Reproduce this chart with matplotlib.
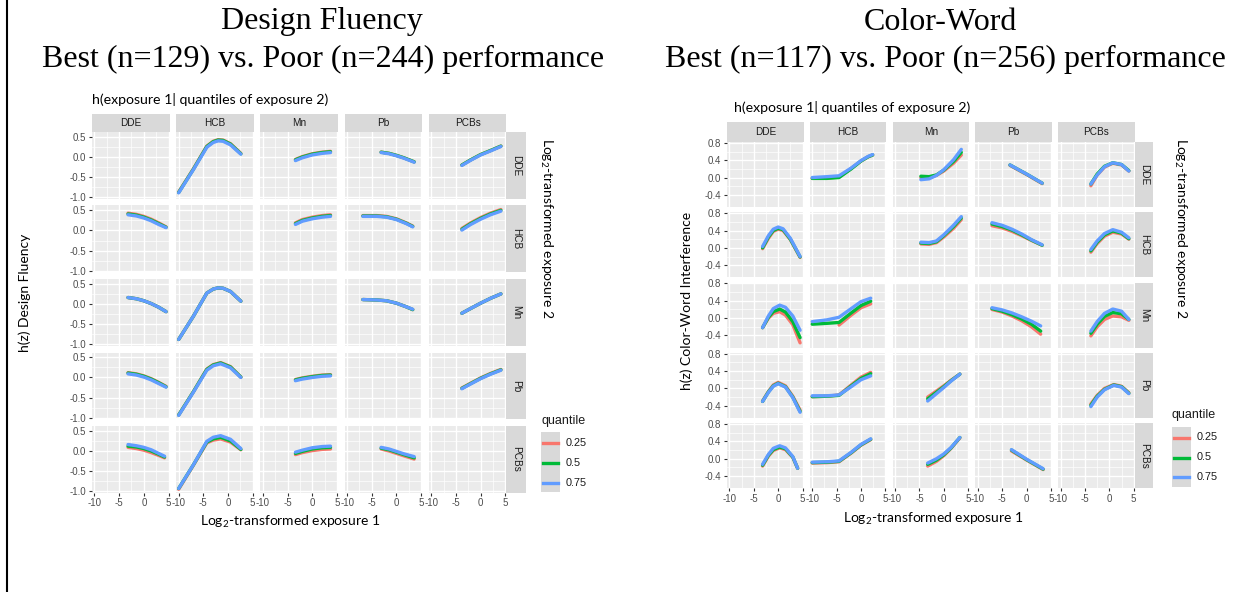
import numpy as np
import matplotlib
matplotlib.use('Agg')
import matplotlib.pyplot as plt
from matplotlib.patches import Rectangle
from matplotlib.lines import Line2D

W, H = 1250, 592

exposures = ['DDE', 'HCB', 'Mn', 'Pb', 'PCBs']
quantiles = ['0.25', '0.5', '0.75']
q_colors = ['#F8766D', '#00BA38', '#619CFF']
nan = np.nan

# Design Fluency, one dict per exposure-2 row: exposure 1 -> (x, q25, q50, q75)
df_dde = {
    'HCB': ([-10, -7, -4.3, -3, -2, -1, 0.5, 2.6],
            [-0.87, -0.29, 0.27, 0.39, 0.43, 0.42, 0.33, 0.09],
            [-0.88, -0.30, 0.26, 0.38, 0.42, 0.41, 0.32, 0.08],
            [-0.89, -0.31, 0.24, 0.36, 0.40, 0.39, 0.30, 0.07]),
    'Mn': ([-3.4, -2, 0, 2, 3.7],
           [-0.06, 0.01, 0.08, 0.12, 0.14],
           [-0.07, 0.0, 0.07, 0.11, 0.13],
           [-0.09, -0.02, 0.05, 0.09, 0.11]),
    'Pb': ([-3.1, -1.5, 0, 1.5, 3.6],
           [0.12, 0.09, 0.04, -0.02, -0.12],
           [0.12, 0.09, 0.04, -0.02, -0.12],
           [0.11, 0.08, 0.03, -0.03, -0.13]),
    'PCBs': ([-3.8, -2, 0, 2, 4.1],
             [-0.20, -0.07, 0.06, 0.16, 0.27],
             [-0.20, -0.07, 0.06, 0.16, 0.27],
             [-0.21, -0.08, 0.05, 0.15, 0.26]),
}
df_hcb = {
    'DDE': ([-3.2, -1.5, 0, 1.5, 3, 4.5],
            [0.43, 0.40, 0.35, 0.28, 0.19, 0.09],
            [0.41, 0.38, 0.33, 0.26, 0.17, 0.08],
            [0.39, 0.36, 0.31, 0.24, 0.15, 0.07]),
    'Mn': ([-3.4, -2, 0, 2, 3.7],
           [0.19, 0.27, 0.33, 0.37, 0.39],
           [0.17, 0.25, 0.31, 0.35, 0.37],
           [0.15, 0.23, 0.29, 0.33, 0.35]),
    'Pb': ([-6.8, -4, -2, 0, 2, 3.3],
           [0.37, 0.37, 0.35, 0.29, 0.19, 0.11],
           [0.36, 0.36, 0.34, 0.28, 0.18, 0.10],
           [0.35, 0.35, 0.33, 0.27, 0.17, 0.09]),
    'PCBs': ([-3.8, -2, 0, 2, 4.1],
             [0.05, 0.19, 0.32, 0.43, 0.52],
             [0.03, 0.17, 0.30, 0.41, 0.50],
             [0.01, 0.15, 0.28, 0.39, 0.48]),
}
df_mn = {
    'DDE': ([-3.2, -1.5, 0, 1.5, 3, 4.5],
            [0.16, 0.13, 0.08, 0.01, -0.08, -0.19],
            [0.16, 0.13, 0.08, 0.01, -0.08, -0.19],
            [0.16, 0.13, 0.08, 0.01, -0.08, -0.19]),
    'HCB': ([-10, -7, -4.3, -3, -2, -1, 0.5, 2.6],
            [-0.88, -0.30, 0.27, 0.37, 0.40, 0.39, 0.31, 0.07],
            [-0.88, -0.30, 0.27, 0.37, 0.40, 0.39, 0.31, 0.07],
            [-0.88, -0.30, 0.27, 0.37, 0.40, 0.39, 0.31, 0.07]),
    'Pb': ([-6.8, -4, -2, 0, 2, 3.3],
           [0.11, 0.10, 0.08, 0.02, -0.07, -0.14],
           [0.11, 0.10, 0.08, 0.02, -0.07, -0.14],
           [0.11, 0.10, 0.08, 0.02, -0.07, -0.13]),
    'PCBs': ([-3.8, -2, 0, 2, 4.1],
             [-0.23, -0.11, 0.02, 0.14, 0.25],
             [-0.23, -0.11, 0.02, 0.14, 0.25],
             [-0.23, -0.11, 0.02, 0.14, 0.25]),
}
df_pb = {
    'DDE': ([-3.2, -1.5, 0, 1.5, 3, 4.5],
            [0.12, 0.09, 0.04, -0.03, -0.12, -0.22],
            [0.11, 0.08, 0.03, -0.04, -0.13, -0.23],
            [0.09, 0.06, 0.01, -0.06, -0.15, -0.24]),
    'HCB': ([-10, -7, -4.3, -3, -1.5, 0.5, 2.6],
            [-0.93, -0.35, 0.21, 0.32, 0.37, 0.27, 0.01],
            [-0.93, -0.35, 0.20, 0.31, 0.36, 0.26, 0.01],
            [-0.94, -0.36, 0.18, 0.29, 0.34, 0.24, 0.0]),
    'Mn': ([-3.4, -2, 0, 2, 3.7],
           [-0.05, -0.01, 0.03, 0.06, 0.07],
           [-0.06, -0.02, 0.02, 0.05, 0.06],
           [-0.08, -0.04, 0.0, 0.03, 0.04]),
    'PCBs': ([-3.8, -2, 0, 2, 4.1],
             [-0.26, -0.14, -0.01, 0.10, 0.20],
             [-0.27, -0.15, -0.02, 0.09, 0.19],
             [-0.28, -0.16, -0.03, 0.08, 0.18]),
}
df_pcbs = {
    'DDE': ([-3.2, -1.5, 0, 1.5, 3, 4.2],
            [0.09, 0.06, 0.02, -0.04, -0.11, -0.17],
            [0.12, 0.10, 0.06, 0.0, -0.08, -0.15],
            [0.16, 0.13, 0.09, 0.03, -0.06, -0.13]),
    'HCB': ([-10, -7, -4.3, -3, -1.5, 0.5, 2.6],
            [-0.95, -0.35, 0.20, 0.27, 0.30, 0.22, 0.03],
            [-0.93, -0.34, 0.22, 0.30, 0.34, 0.25, 0.04],
            [-0.93, -0.34, 0.24, 0.34, 0.38, 0.29, 0.06]),
    'Mn': ([-3.4, -2, 0, 2, 3.7],
           [-0.09, -0.04, 0.01, 0.04, 0.05],
           [-0.06, -0.01, 0.05, 0.08, 0.09],
           [-0.03, 0.02, 0.08, 0.11, 0.12]),
    'Pb': ([-3.1, -1.5, 0, 1.5, 3.6],
           [0.05, 0.0, -0.06, -0.12, -0.20],
           [0.07, 0.03, -0.03, -0.09, -0.17],
           [0.09, 0.05, -0.01, -0.07, -0.14]),
}

# Color-Word Interference, same layout
cw_dde = {
    'HCB': ([-10, -7, -4.5, -2, 0, 1.5, 2.4],
            [-0.02, -0.01, 0.01, 0.21, 0.38, 0.48, 0.52],
            [-0.02, -0.02, 0.0, 0.20, 0.38, 0.48, 0.52],
            [0.0, 0.02, 0.04, 0.22, 0.39, 0.49, 0.53]),
    'Mn': ([-4.7, -3, -1.5, 0, 2, 3.6],
           [0.0, 0.0, 0.05, 0.15, 0.33, 0.52],
           [0.03, 0.02, 0.06, 0.17, 0.37, 0.58],
           [-0.05, -0.03, 0.05, 0.18, 0.41, 0.65]),
    'Pb': ([-3.4, 0, 3.2],
           [0.28, 0.07, -0.14],
           [0.29, 0.08, -0.13],
           [0.29, 0.08, -0.13]),
    'PCBs': ([-3.8, -2.5, -1, 0.7, 2.5, 4.0],
             [-0.19, 0.06, 0.24, 0.33, 0.29, 0.15],
             [-0.15, 0.08, 0.26, 0.34, 0.30, 0.16],
             [-0.15, 0.06, 0.25, 0.34, 0.30, 0.15]),
}
cw_hcb = {
    'DDE': ([-3.2, -2, -1, 0, 1, 2.5, 4.5],
            [-0.02, 0.22, 0.38, 0.43, 0.40, 0.19, -0.22],
            [0.0, 0.25, 0.40, 0.45, 0.42, 0.20, -0.21],
            [0.03, 0.28, 0.43, 0.48, 0.44, 0.22, -0.20]),
    'Mn': ([-4.7, -3, -1.5, 0, 2, 3.6],
           [0.09, 0.08, 0.12, 0.25, 0.45, 0.65],
           [0.11, 0.10, 0.14, 0.28, 0.49, 0.69],
           [0.13, 0.12, 0.16, 0.30, 0.52, 0.72]),
    'Pb': ([-7.1, -5, -3, -1, 1, 3.2],
           [0.51, 0.46, 0.38, 0.28, 0.17, 0.06],
           [0.55, 0.49, 0.41, 0.30, 0.18, 0.06],
           [0.58, 0.52, 0.43, 0.32, 0.19, 0.07]),
    'PCBs': ([-3.8, -2.5, -1, 0.7, 2.5, 4.0],
             [-0.10, 0.10, 0.27, 0.36, 0.32, 0.20],
             [-0.07, 0.13, 0.30, 0.39, 0.34, 0.21],
             [-0.04, 0.16, 0.33, 0.42, 0.36, 0.23]),
}
cw_mn = {
    'DDE': ([-3.2, -2, -1, 0.3, 1.5, 3, 4.5],
            [-0.22, 0.0, 0.11, 0.15, 0.07, -0.15, -0.57],
            [-0.22, 0.02, 0.15, 0.21, 0.14, -0.08, -0.45],
            [-0.22, 0.05, 0.22, 0.30, 0.25, 0.05, -0.28]),
    'HCB': ([-10, -7, -4.5, -2, 0, 2.0],
            [nan, nan, -0.16, 0.07, 0.24, 0.33],
            [-0.14, -0.12, -0.10, 0.12, 0.29, 0.39],
            [-0.08, -0.04, 0.02, 0.22, 0.38, 0.46]),
    'Pb': ([-7.1, -5, -3, -1, 1, 2.9],
           [0.20, 0.14, 0.05, -0.06, -0.20, -0.37],
           [0.22, 0.16, 0.08, -0.02, -0.14, -0.30],
           [0.24, 0.19, 0.12, 0.03, -0.07, -0.18]),
    'PCBs': ([-3.8, -2.5, -1, 0.7, 2.5, 4.0],
             [-0.41, -0.20, -0.03, 0.05, 0.03, -0.05],
             [-0.35, -0.14, 0.04, 0.13, 0.10, -0.03],
             [-0.30, -0.08, 0.11, 0.21, 0.16, -0.03]),
}
cw_pb = {
    'DDE': ([-3.2, -2, -1, 0.0, 1.5, 3, 4.5],
            [-0.29, -0.07, 0.08, 0.14, 0.06, -0.18, -0.50],
            [-0.30, -0.08, 0.06, 0.12, 0.04, -0.20, -0.53],
            [-0.30, -0.09, 0.05, 0.11, 0.03, -0.21, -0.55]),
    'HCB': ([-10, -7, -4.5, -2, 0, 2.0],
            [-0.19, -0.18, -0.15, 0.08, 0.26, 0.37],
            [-0.19, -0.18, -0.16, 0.06, 0.23, 0.34],
            [-0.17, -0.17, -0.15, 0.04, 0.20, 0.29]),
    'Mn': ([-3.3, -1.5, 0, 1.5, 3.3],
           [-0.20, -0.06, 0.06, 0.19, 0.33],
           [-0.24, -0.09, 0.04, 0.18, 0.33],
           [-0.29, -0.12, 0.02, 0.17, 0.33]),
    'PCBs': ([-3.8, -2.5, -1, 0.9, 2.5, 4.0],
             [-0.36, -0.16, 0.0, 0.09, 0.05, -0.10],
             [-0.39, -0.18, -0.02, 0.08, 0.04, -0.11],
             [-0.42, -0.20, -0.03, 0.07, 0.03, -0.12]),
}
cw_pcbs = {
    'DDE': ([-3.2, -2, -1, 0.3, 1.5, 3, 4.0],
            [-0.17, 0.06, 0.19, 0.25, 0.21, 0.03, -0.22],
            [-0.15, 0.08, 0.21, 0.27, 0.23, 0.04, -0.22],
            [-0.13, 0.10, 0.24, 0.30, 0.25, 0.05, -0.22]),
    'HCB': ([-10, -7, -4.5, -2, 0, 2.0],
            [-0.10, -0.09, -0.07, 0.13, 0.31, 0.44],
            [-0.09, -0.08, -0.06, 0.14, 0.32, 0.45],
            [-0.08, -0.07, -0.05, 0.15, 0.33, 0.46]),
    'Mn': ([-3.3, -1.5, 0, 1.5, 3.3],
           [-0.17, -0.06, 0.07, 0.24, 0.48],
           [-0.13, -0.03, 0.09, 0.25, 0.49],
           [-0.10, 0.0, 0.11, 0.26, 0.49]),
    'Pb': ([-3.1, 0, 3.4],
           [0.18, -0.03, -0.25],
           [0.20, -0.02, -0.24],
           [0.21, -0.01, -0.23]),
}

fluency_rows = [df_dde, df_hcb, df_mn, df_pb, df_pcbs]
colorword_rows = [cw_dde, cw_hcb, cw_mn, cw_pb, cw_pcbs]

plt.rcParams['mathtext.fontset'] = 'custom'
plt.rcParams['mathtext.rm'] = 'Lato'
plt.rcParams['mathtext.it'] = 'Lato:italic'

fig = plt.figure(figsize=(W / 100, H / 100), dpi=100)
fig.patch.set_facecolor('white')


def box(left, top, w, h):
    return [left / W, 1 - (top + h) / H, w / W, h / H]


def fx(px):
    return px / W


def fy(py):
    return 1 - py / H


def strip(left, top, w, h, label, rot):
    sa = fig.add_axes(box(left, top, w, h))
    sa.set_facecolor('#D9D9D9')
    sa.set_xticks([])
    sa.set_yticks([])
    for s in sa.spines.values():
        s.set_visible(False)
    sa.text(0.5, 0.5, label, ha='center', va='center', fontsize=7.2,
            rotation=rot, color='#1A1A1A', family='Liberation Sans')


def draw_grid(rows, lefts, tops, pw, ph, strip_h, strip_w, ylim, yticks, yminor, ylabels):
    for r, row in enumerate(rows):
        for c, name in enumerate(exposures):
            ax = fig.add_axes(box(lefts[c], tops[r], pw, ph))
            ax.set_facecolor('#EBEBEB')
            ax.set_xlim(-10.5, 5.2)
            ax.set_ylim(*ylim)
            ax.set_xticks([-10, -5, 0, 5])
            ax.set_xticks([-7.5, -2.5, 2.5], minor=True)
            ax.set_yticks(yticks)
            ax.set_yticks(yminor, minor=True)
            ax.set_xticklabels(['-10', '-5', '0', '5'])
            ax.set_yticklabels(ylabels)
            ax.grid(which='major', color='white', lw=1.0)
            ax.grid(which='minor', color='white', lw=0.5)
            ax.set_axisbelow(True)
            for s in ax.spines.values():
                s.set_visible(False)
            ax.tick_params(which='major', length=2.5, width=0.8, color='#333333',
                           labelcolor='#4D4D4D', labelsize=7, pad=1.5)
            ax.tick_params(which='minor', length=0)
            ax.tick_params(bottom=(r == 4), labelbottom=(r == 4),
                           left=(c == 0), labelleft=(c == 0))
            for lab in ax.get_xticklabels() + ax.get_yticklabels():
                lab.set_fontfamily('Liberation Sans')
            if name in row:
                x, *qs = row[name]
                for q, col in zip(qs, q_colors):
                    ax.plot(x, q, color=col, lw=2.4, solid_capstyle='round',
                            solid_joinstyle='round')
            # column strips on top, row strips on the right
            if r == 0:
                strip(lefts[c], tops[0] - strip_h, pw, strip_h, name, 0)
            if c == 4:
                strip(lefts[4] + pw, tops[r], strip_w, ph, exposures[r], -90)


def draw_legend(left, title_y, key_top, key_ys):
    fig.text(fx(left), fy(title_y), 'quantile', ha='left', va='center',
             fontsize=9, color='#1A1A1A', family='Liberation Sans')
    fig.patches.append(Rectangle((fx(left), fy(key_top + 60)), 19 / W, 60 / H,
                                 transform=fig.transFigure, facecolor='#D9D9D9',
                                 edgecolor='none'))
    for ky, lab, col in zip(key_ys, quantiles, q_colors):
        fig.lines.append(Line2D([fx(left + 2), fx(left + 17)], [fy(ky), fy(ky)],
                                transform=fig.transFigure, color=col, lw=2.4))
        fig.text(fx(left + 25), fy(ky), lab, ha='left', va='center', fontsize=7.8,
                 color='#1A1A1A', family='Liberation Sans')


# Design Fluency grid
fl_lefts = [92 + i * 84.2 for i in range(5)]
fl_tops = [132 + i * 73.5 for i in range(5)]
draw_grid(fluency_rows, fl_lefts, fl_tops, 77.5, 66.5, 18.5, 19.5,
          (-1.03, 0.62), [-1.0, -0.5, 0.0, 0.5], [-0.75, -0.25, 0.25],
          ['-1.0', '-0.5', '0.0', '0.5'])

# Color-Word grid
cw_lefts = [727 + i * 82.8 for i in range(5)]
cw_tops = [142 + i * 70.3 for i in range(5)]
draw_grid(colorword_rows, cw_lefts, cw_tops, 76.5, 65, 20, 18.5,
          (-0.68, 0.82), [-0.4, 0.0, 0.4, 0.8], [-0.2, 0.2, 0.6],
          ['-0.4', '0.0', '0.4', '0.8'])

# titles
serif = 'Liberation Serif'
fig.text(fx(322), fy(22), 'Design Fluency', ha='center', va='center', fontsize=23, family=serif)
fig.text(fx(323), fy(59), 'Best (n=129) vs. Poor (n=244) performance', ha='center',
         va='center', fontsize=23, family=serif)
fig.text(fx(940), fy(22), 'Color-Word', ha='center', va='center', fontsize=23, family=serif)
fig.text(fx(945), fy(59), 'Best (n=117) vs. Poor (n=256) performance', ha='center',
         va='center', fontsize=23, family=serif)

# facet annotations
sub = 'h(exposure 1| quantiles of exposure 2)'
fig.text(fx(92), fy(99), sub, ha='left', va='center', fontsize=10.2, family='Lato')
fig.text(fx(734), fy(107), sub, ha='left', va='center', fontsize=10.2, family='Lato')

fig.text(fx(25), fy(293), 'h(z) Design Fluency', rotation=90, ha='center', va='center',
         fontsize=10, family='Lato')
fig.text(fx(687), fy(301), 'h(z) Color-Word Interference', rotation=90, ha='center',
         va='center', fontsize=10, family='Lato')

fig.text(fx(290), fy(522), r'Log$_2$-transformed exposure 1', ha='center', va='center',
         fontsize=10, family='Lato')
fig.text(fx(933), fy(519), r'Log$_2$-transformed exposure 1', ha='center', va='center',
         fontsize=10, family='Lato')

fig.text(fx(546), fy(228), r'Log$_2$-transformed exposure 2', rotation=-90, ha='center',
         va='center', fontsize=10, family='Lato')
fig.text(fx(1180), fy(228), r'Log$_2$-transformed exposure 2', rotation=-90, ha='center',
         va='center', fontsize=10, family='Lato')

draw_legend(541, 421, 432, [442.5, 462.5, 482.5])
draw_legend(1172, 415, 427, [437.5, 457.5, 477])

# left border rule
fig.lines.append(Line2D([fx(7), fx(7)], [0, 1], transform=fig.transFigure,
                        color='black', lw=1.5))

fig.savefig('out.png', dpi=100)
